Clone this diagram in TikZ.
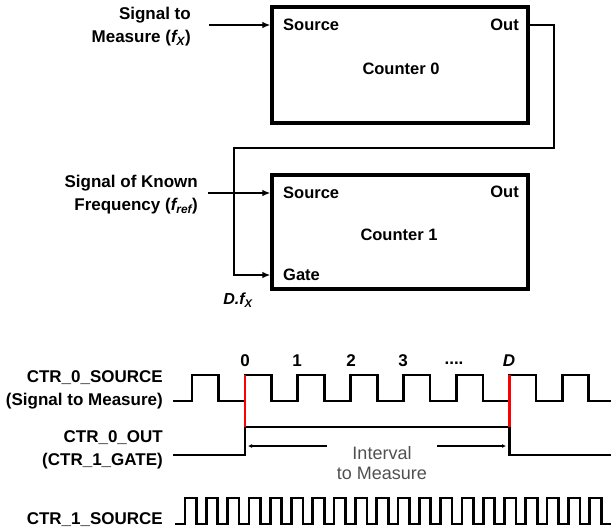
\documentclass[tikz,border=0pt]{standalone}
\usepackage{fontspec}
\setmainfont{Liberation Sans}
\usetikzlibrary{arrows.meta,positioning}
\definecolor{edgered}{HTML}{FF0000}
\definecolor{notegray}{HTML}{505050}
\tikzset{
  counterbox/.style={draw, line width=3.2pt, minimum width=256pt, minimum height=116pt, inner sep=0pt},
  port/.style={font=\fontsize{16.5}{19}\selectfont\bfseries, inner sep=0pt},
  sigtag/.style={font=\fontsize{17}{23}\selectfont\bfseries, align=right, inner sep=0pt},
  wire/.style={line width=2.7pt},
  feed/.style={wire, -{Latex[length=8pt,width=6.5pt]}},
  pulsetrain/.style={line width=2.7pt, line join=miter},
  edgemark/.style={line width=2.7pt, edgered},
  dimarr/.style={line width=2.2pt, -{Latex[length=4pt,width=4pt]}},
}
\begin{document}
\begin{tikzpicture}[x=1pt,y=-1pt]
  \useasboundingbox (0,0) rectangle (611,531);

  \node[counterbox] (c0) at (400,65) {};
  \node[counterbox, minimum height=114pt] (c1) at (400,232) {};
  \node[port, anchor=west] (c0src) at (283,25) {Source};
  \node[port, anchor=east] (c0out) at (519,25) {Out};
  \node[port] (c0name) at (401,69) {Counter 0};
  \node[port, anchor=west] (c1src) at (283,193) {Source};
  \node[port, anchor=east] (c1out) at (519,192) {Out};
  \node[port] (c1name) at (399,235) {Counter 1};
  \node[port, anchor=west] (c1gate) at (283,275) {Gate};

  \node[sigtag, anchor=east] (fx) at (191,27) {Signal to\\Measure (\textit{f\textsubscript{X}})};
  \node[sigtag, anchor=east] (fref) at (198,195) {Signal of Known\\Frequency (\textit{f\textsubscript{ref}})};
  \node[sigtag, font=\fontsize{16}{19}\selectfont\bfseries\itshape] (dfx) at (238,300) {D.f\textsubscript{X}};

  \coordinate (fxin) at (209,25);
  \coordinate (frefin) at (208,193);
  \coordinate (loopr) at (554,148);
  \coordinate (loopl) at (234,148);
  \draw[feed] (fxin) -- (c0.west |- fxin);
  \draw[feed] (frefin) -- (c1.west |- frefin);
  \draw[feed] (c0.east |- c0out) -| (loopr) -- (loopl) |- (c1.west |- c1gate);

  \node[sigtag, anchor=east] (s0) at (163,390) {CTR\_0\_SOURCE\\(Signal to Measure)};
  \node[sigtag, anchor=east] (o0) at (163,450) {CTR\_0\_OUT\\(CTR\_1\_GATE)};
  \node[sigtag, anchor=east] (s1) at (163,520) {CTR\_1\_SOURCE};

  \node[sigtag] (n0) at (245,361) {0};
  \node[sigtag] (n1) at (297,361) {1};
  \node[sigtag] (n2) at (351,361) {2};
  \node[sigtag] (n3) at (403,361) {3};
  \node[sigtag] (ndots) at (454,363) {....};
  \node[sigtag, font=\fontsize{17}{23}\selectfont\bfseries\itshape] (nD) at (509,361) {D};

  \draw[pulsetrain] (173,401) foreach \k in {0,...,7} { -- ({192+52.9*\k},401) -- ++(0,-26) -- ++(26.5,0) -- ++(0,26) } -- (611,401);
  \draw[pulsetrain] (173,455) -- (245,455) -- (245,427) -- (509.4,427) -- (509.4,455) -- (611,455);
  \draw[edgemark] (244.9,375) -- (244.9,427);
  \draw[edgemark] (509.4,375) -- (509.4,427);

  \node[font=\fontsize{18}{20}\selectfont, text=notegray, align=center, inner xsep=10pt, inner ysep=0pt] (intv) at (382,463) {Interval\\to Measure};
  \coordinate (ivA) at (248,446);
  \coordinate (ivB) at (506,446);
  \draw[dimarr] (intv.west |- ivA) -- (ivA);
  \draw[dimarr] (intv.east |- ivB) -- (ivB);

  \draw[pulsetrain] (175,524) foreach \k in {0,...,19} { -- ({185+21.3*\k},524) -- ++(0,-26) -- ++(11.5,0) -- ++(0,26) } -- (611,524);
\end{tikzpicture}
\end{document}
